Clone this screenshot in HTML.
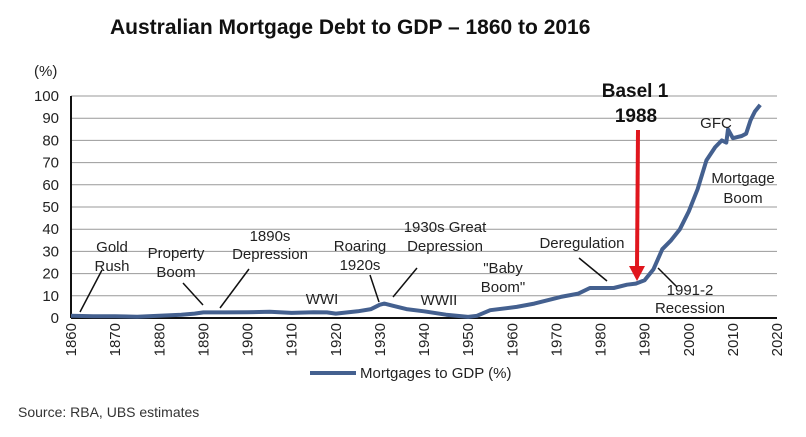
<!DOCTYPE html>
<html><head><meta charset="utf-8"><style>
body{margin:0;background:#fff;font-family:"Liberation Sans",sans-serif}
svg text{font-family:"Liberation Sans",sans-serif}
</style></head><body>
<svg width="806" height="432">
<text x="110" y="34" font-size="21" font-weight="bold" fill="#111">Australian Mortgage Debt to GDP – 1860 to 2016</text>
<text x="34" y="76" font-size="15" fill="#222">(%)</text>
<g id="grid"></g><g id="yt"></g><g id="xt"></g>
<path id="line" fill="none" stroke="#44608f" stroke-width="4" stroke-linejoin="round"/>
<g font-size="15" fill="#222" stroke="none" text-anchor="middle">
<text x="112" y="252">Gold</text><text x="112" y="271">Rush</text>
<text x="176" y="258">Property</text><text x="176" y="277">Boom</text>
<text x="270" y="241">1890s</text><text x="270" y="259">Depression</text>
<text x="360" y="251">Roaring</text><text x="360" y="270">1920s</text>
<text x="445" y="232">1930s Great</text><text x="445" y="251">Depression</text>
<text x="322" y="304">WWI</text><text x="439" y="305">WWII</text>
<text x="503" y="273">"Baby</text><text x="503" y="292">Boom"</text>
<text x="582" y="248">Deregulation</text>
<text x="690" y="295">1991-2</text><text x="690" y="313">Recession</text>
<text x="716" y="128">GFC</text>
<text x="743" y="183">Mortgage</text><text x="743" y="203">Boom</text>
</g>
<g stroke="#111" stroke-width="1.5">
<line x1="102" y1="270" x2="80" y2="312"/><line x1="183" y1="283" x2="203" y2="305"/>
<line x1="249" y1="269" x2="220" y2="308"/><line x1="370" y1="275" x2="379" y2="302"/>
<line x1="417" y1="268" x2="393" y2="297"/><line x1="579" y1="258" x2="607" y2="281"/>
<line x1="658" y1="268" x2="677" y2="287"/>
</g>
<text x="635" y="97" font-size="19" font-weight="bold" text-anchor="middle" fill="#111">Basel 1</text>
<text x="636" y="122" font-size="19" font-weight="bold" text-anchor="middle" fill="#111">1988</text>
<g><line x1="638" y1="130" x2="637" y2="268" stroke="#e0161d" stroke-width="4"/><polygon points="629,266 645,266 637,281" fill="#e0161d"/></g>
<line x1="310" y1="373" x2="356" y2="373" stroke="#44608f" stroke-width="4"/>
<text x="360" y="378" font-size="15" fill="#222">Mortgages to GDP (%)</text>
<text x="18" y="417" font-size="14" fill="#333">Source: RBA, UBS estimates</text>
</svg>
<script>
const years=[1860,1865,1870,1875,1880,1885,1888,1890,1895,1900,1905,1910,1915,1918,1920,1925,1928,1930,1931,1933,1936,1940,1945,1950,1952,1955,1961,1965,1971,1975,1977.6,1980,1983,1986,1988,1990,1992,1994,1996,1998,2000,2002,2004,2006,2007.5,2008.5,2008.9,2010,2011,2012,2013,2014,2015,2016.2];
const values=[1,0.8,0.8,0.6,1,1.5,2,2.5,2.5,2.6,2.8,2.3,2.6,2.5,2,3,4,6,6.5,5.5,4,3,1.5,0.5,1,3.5,5,6.5,9.5,11,13.5,13.5,13.5,15,15.5,17,22,31,35,40,48,58,71,77,80,79,85,81,81.5,82,83,89,93,96];
const yTicks=[0,10,20,30,40,50,60,70,80,90,100];
const xTicks=[1860,1870,1880,1890,1900,1910,1920,1930,1940,1950,1960,1970,1980,1990,2000,2010,2020];
const X=y=>71+(y-1860)*(777-71)/160, Y=v=>318-v*2.22;
const NS='http://www.w3.org/2000/svg';
function mk(t,a,p){const e=document.createElementNS(NS,t);for(const k in a)e.setAttribute(k,a[k]);p.appendChild(e);return e;}
const g=document.getElementById('grid'),yt=document.getElementById('yt'),xt=document.getElementById('xt');
yTicks.forEach(v=>{const l=mk('line',{x1:71,x2:777,y1:Y(v),y2:Y(v),stroke:v?'#999':'#111','stroke-width':v?1:2},g);


const t=mk('text',{x:59,y:Y(v)+5,'font-size':15,'text-anchor':'end',fill:'#222'},yt);t.textContent=v;

});
const ax=mk('line',{x1:71,x2:71,y1:96,y2:318,stroke:'#111','stroke-width':2},g);


xTicks.forEach(v=>{const t=mk('text',{transform:`translate(${X(v)+5},323) rotate(-90)`,'font-size':15,'text-anchor':'end',fill:'#222'},xt);t.textContent=v;

});
document.getElementById('line').setAttribute('d',years.map((y,i)=>(i?'L':'M')+X(y).toFixed(1)+','+Y(values[i]).toFixed(1)).join(''));
</script>
</body></html>
